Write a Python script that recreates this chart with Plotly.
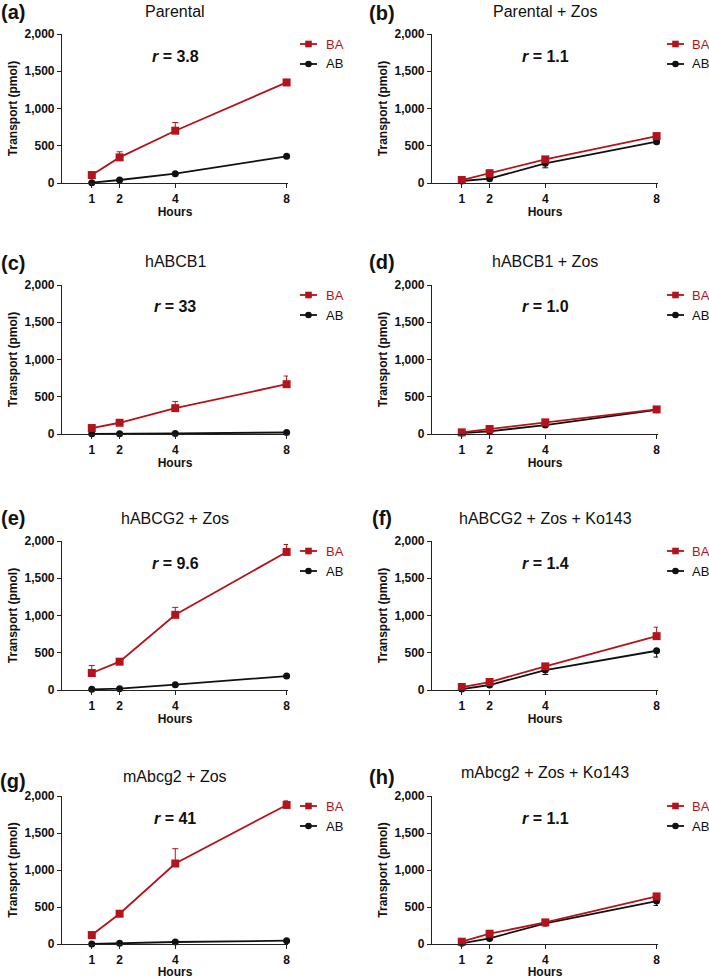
import plotly.graph_objects as go

W, H = 709, 979

hours = [1, 2, 4, 8]
x_ticks = [1, 2, 4, 8]
y_ticks = [0, 500, 1000, 1500, 2000]
y_tick_labels = ["0", "500", "1,000", "1,500", "2,000"]

panel_letters = ["(a)", "(b)", "(c)", "(d)", "(e)", "(f)", "(g)", "(h)"]
panel_titles = ["Parental", "Parental + Zos", "hABCB1", "hABCB1 + Zos",
                "hABCG2 + Zos", "hABCG2 + Zos + Ko143", "mAbcg2 + Zos", "mAbcg2 + Zos + Ko143"]
ratios = ["3.8", "1.1", "33", "1.0", "9.6", "1.4", "41", "1.1"]

ba_a = [107, 344, 702, 1350]; ba_a_err = [10, 75, 110, 20]
ab_a = [5, 40, 125, 358];     ab_a_err = [3, 5, 10, 15]
ba_b = [40, 130, 317, 630];   ba_b_err = [10, 45, 25, 25]
ab_b = [27, 58, 264, 554];    ab_b_err = [5, 10, 60, 25]
ba_c = [80, 151, 347, 668];   ba_c_err = [15, 15, 90, 110]
ab_c = [2, 3, 8, 20];         ab_c_err = [1, 1, 2, 5]
ba_d = [22, 67, 156, 330];    ba_d_err = [5, 10, 15, 15]
ab_d = [13, 36, 120, 325];    ab_d_err = [3, 5, 10, 15]
ba_e = [228, 380, 1009, 1853]; ba_e_err = [100, 20, 100, 100]
ab_e = [9, 18, 71, 187];      ab_e_err = [3, 5, 8, 12]
ba_f = [40, 107, 317, 723];   ba_f_err = [15, 15, 20, 120]
ab_f = [13, 67, 268, 527];    ab_f_err = [5, 10, 60, 85]
ba_g = [121, 409, 1088, 1879]; ba_g_err = [10, 15, 200, 55]
ab_g = [0, 9, 27, 45];        ab_g_err = [1, 2, 5, 5]
ba_h = [31, 139, 292, 643];   ba_h_err = [5, 15, 15, 15]
ab_h = [9, 76, 279, 580];     ab_h_err = [3, 5, 10, 60]

BA = [ba_a, ba_b, ba_c, ba_d, ba_e, ba_f, ba_g, ba_h]
BA_ERR = [ba_a_err, ba_b_err, ba_c_err, ba_d_err, ba_e_err, ba_f_err, ba_g_err, ba_h_err]
AB = [ab_a, ab_b, ab_c, ab_d, ab_e, ab_f, ab_g, ab_h]
AB_ERR = [ab_a_err, ab_b_err, ab_c_err, ab_d_err, ab_e_err, ab_f_err, ab_g_err, ab_h_err]

RED = "#B3141C"
BLACK = "#111111"
AXC = "#222222"
FONT = "Liberation Sans, Arial, sans-serif"

def px(x):
    return x / W

def py(y):
    return 1 - y / H

col_x = [(62, 288), (432, 658)]
row_y = [(34, 183), (285, 434), (541, 690), (796, 944)]
title_y = [(11, 11), (262, 262), (518, 518), (776, 772)]
letter_y = [(12, 13), (263, 262), (518, 518), (781, 777)]
leg_line = [(300, 317, 324), (667, 684, 690)]

fig = go.Figure()
annotations = []
shapes = []
layout_axes = {}

for i in range(8):
    r, c = divmod(i, 2)
    n = i + 1
    xa = "x" if n == 1 else f"x{n}"
    ya = "y" if n == 1 else f"y{n}"
    xkey = "xaxis" if n == 1 else f"xaxis{n}"
    ykey = "yaxis" if n == 1 else f"yaxis{n}"
    x0, x1 = col_x[c]
    ytop, ybot = row_y[r]

    fig.add_trace(go.Scatter(
        x=hours, y=AB[i], mode="lines+markers", xaxis=xa, yaxis=ya,
        line=dict(color=BLACK, width=1.8),
        marker=dict(symbol="circle", size=7, color=BLACK),
        error_y=dict(type="data", symmetric=False, array=[0] * 4, arrayminus=AB_ERR[i],
                     color=BLACK, thickness=1, width=3),
        cliponaxis=False, showlegend=False))
    fig.add_trace(go.Scatter(
        x=hours, y=BA[i], mode="lines+markers", xaxis=xa, yaxis=ya,
        line=dict(color=RED, width=1.8),
        marker=dict(symbol="square", size=8, color=RED),
        error_y=dict(type="data", symmetric=False, array=BA_ERR[i], arrayminus=[0] * 4,
                     color=RED, thickness=1, width=3),
        cliponaxis=False, showlegend=False))

    layout_axes[xkey] = dict(
        domain=[px(x0), px(x1)], anchor=ya, range=[-0.07, 8.05], automargin=False,
        tickmode="array", tickvals=x_ticks, ticktext=[str(t) for t in x_ticks],
        ticks="outside", ticklen=4, tickwidth=1.2, tickcolor=AXC,
        showline=True, linecolor=AXC, linewidth=1.2, showgrid=False, zeroline=False,
        tickfont=dict(family=FONT, size=12, color="#111", weight="bold"),
        title=dict(text="<b>Hours</b>", font=dict(family=FONT, size=12, color="#111"), standoff=3),
    )
    layout_axes[ykey] = dict(
        domain=[py(ybot), py(ytop)], anchor=xa, range=[0, 2000], automargin=False,
        tickmode="array", tickvals=y_ticks, ticktext=y_tick_labels,
        ticks="outside", ticklen=4, tickwidth=1.2, tickcolor=AXC,
        showline=True, linecolor=AXC, linewidth=1.2, showgrid=False, zeroline=False,
        tickfont=dict(family=FONT, size=12, color="#111", weight="bold"),
        title=dict(text="<b>Transport (pmol)</b>", font=dict(family=FONT, size=12, color="#111"), standoff=4),
    )

    cx = (x0 + x1) / 2
    lx = 13 if c == 0 else 382
    annotations.append(dict(text=f"<b>{panel_letters[i]}</b>", x=px(lx), y=py(letter_y[r][c]),
                            xref="paper", yref="paper", xanchor="center", yanchor="middle",
                            showarrow=False, font=dict(family=FONT, size=20, color="#111")))
    annotations.append(dict(text=panel_titles[i], x=px(cx), y=py(title_y[r][c]),
                            xref="paper", yref="paper", xanchor="center", yanchor="middle",
                            showarrow=False, font=dict(family=FONT, size=16, color="#111")))
    annotations.append(dict(text=f"<b><i>r</i> = {ratios[i]}</b>", x=px(cx), y=py(ytop + 22),
                            xref="paper", yref="paper", xanchor="center", yanchor="middle",
                            showarrow=False, font=dict(family=FONT, size=16, color="#111")))
    lx0, lx1, tx = leg_line[c]
    for k, (name, colr, sym) in enumerate([("BA", RED, "square"), ("AB", BLACK, "circle")]):
        yy = ytop + 10 + 20 * k
        shapes.append(dict(type="line", xref="paper", yref="paper", x0=px(lx0), x1=px(lx1),
                           y0=py(yy), y1=py(yy), line=dict(color=colr, width=1.8)))
        mx = (lx0 + lx1) / 2
        shapes.append(dict(type="rect" if sym == "square" else "circle", xref="paper", yref="paper",
                           x0=px(mx - 3.3), x1=px(mx + 3.3), y0=py(yy - 3.3), y1=py(yy + 3.3),
                           fillcolor=colr, line=dict(color=colr, width=0)))
        annotations.append(dict(text=name, x=px(tx), y=py(yy), xref="paper", yref="paper",
                                xanchor="left", yanchor="middle", showarrow=False,
                                font=dict(family=FONT, size=13, color=colr)))

fig.update_layout(
    width=W, height=H, margin=dict(l=0, r=0, t=0, b=0),
    paper_bgcolor="white", plot_bgcolor="white",
    font=dict(family=FONT, color="#111"),
    annotations=annotations, shapes=shapes, showlegend=False,
    **layout_axes,
)

# remove the browser's default 8px body margin so the 709x979 figure fills the window exactly
fig.write_html("out.html", config={"displayModeBar": False},
               post_script="document.body.style.margin='0';")
